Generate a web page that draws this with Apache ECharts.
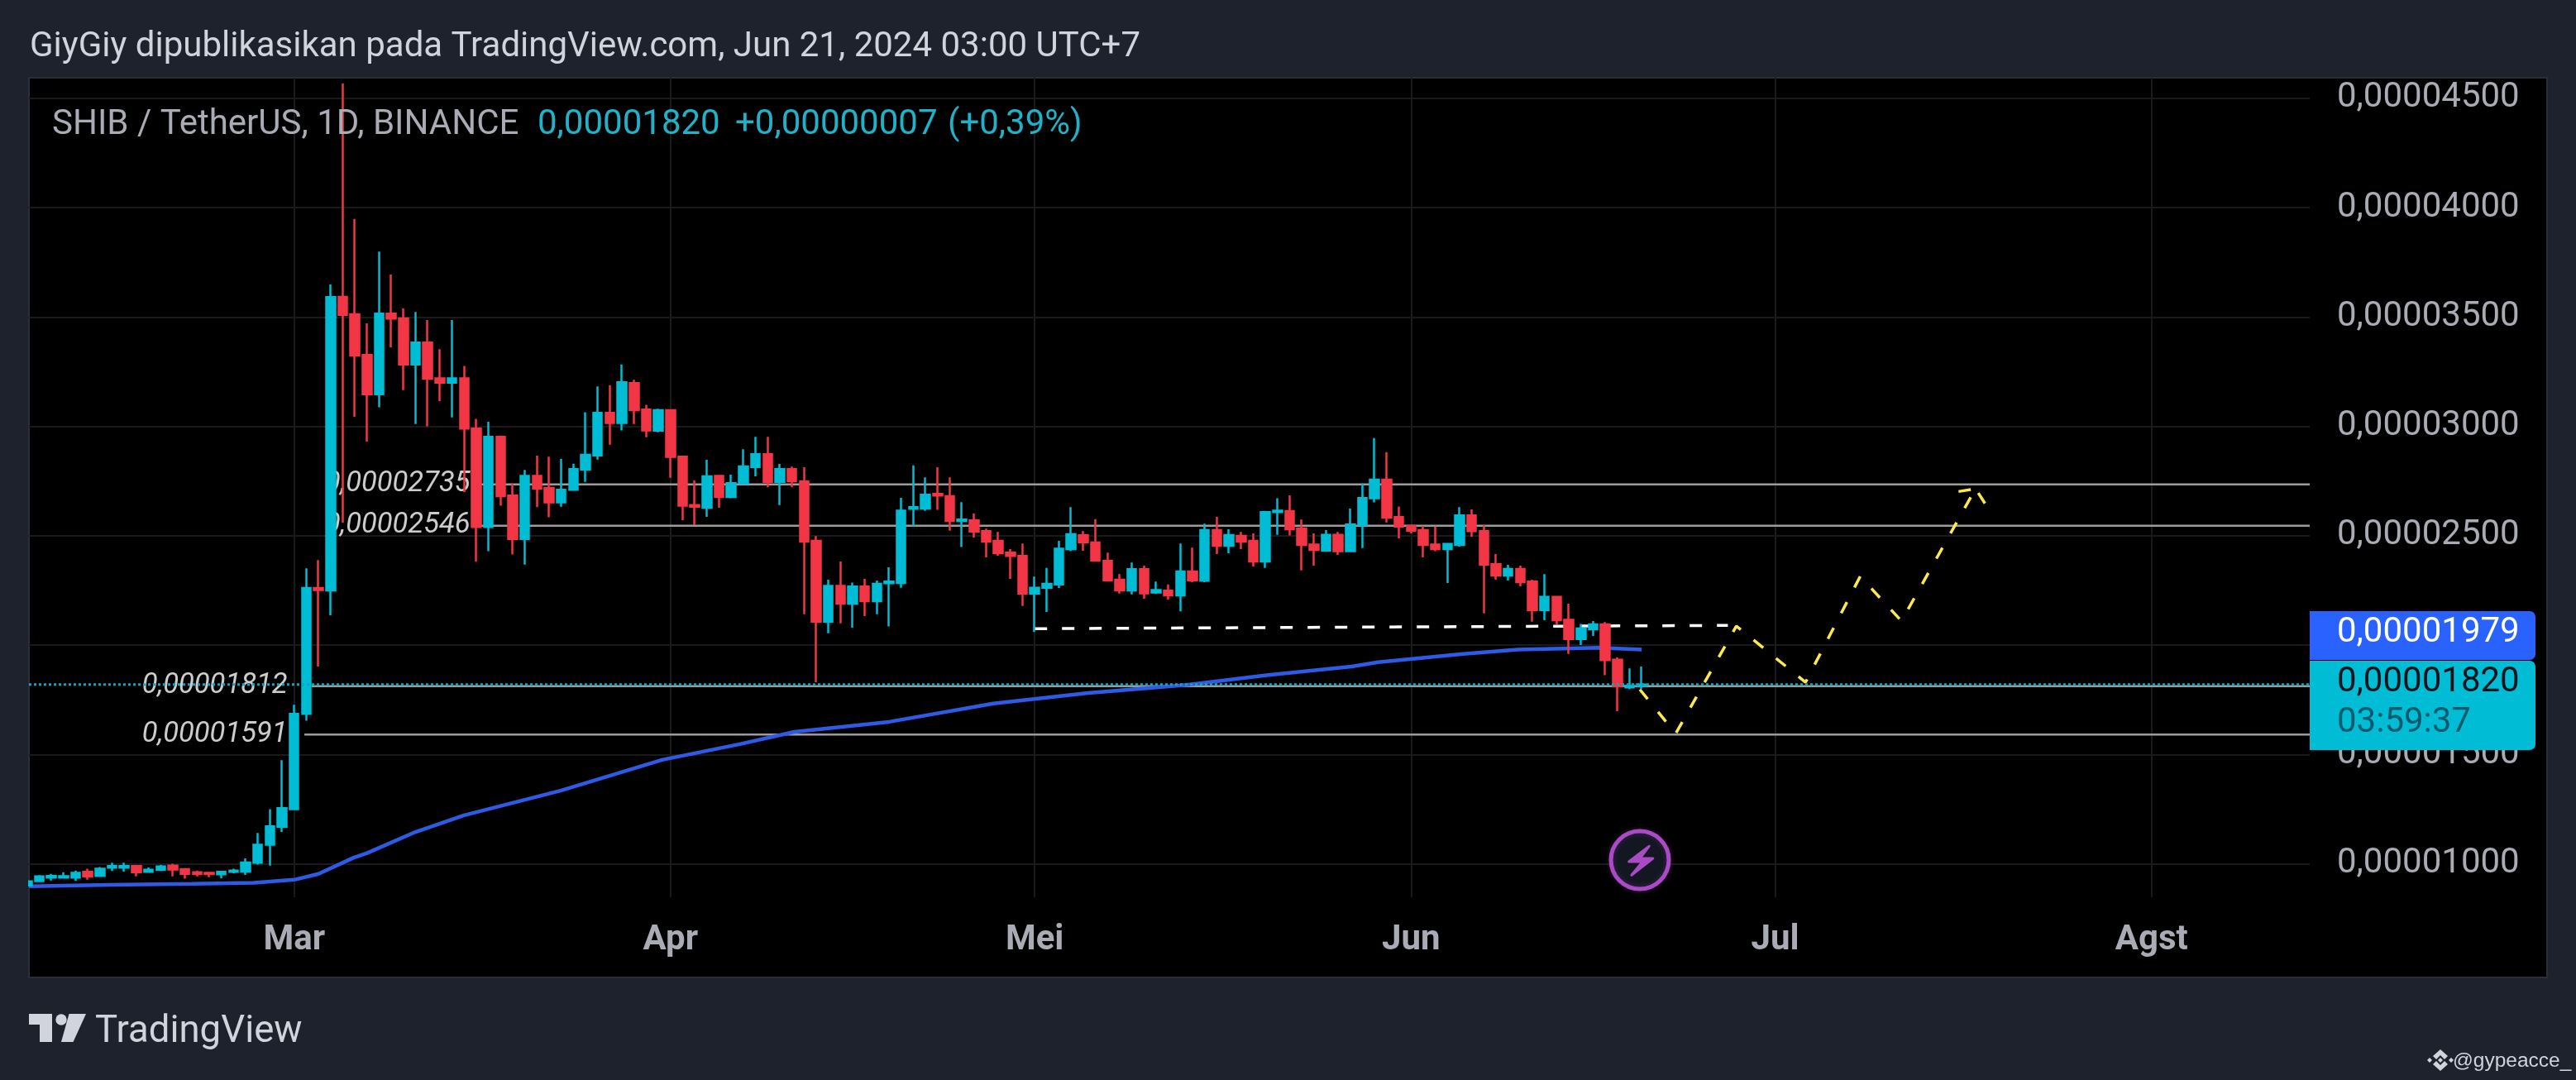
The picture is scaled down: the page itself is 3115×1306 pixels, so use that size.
<!DOCTYPE html>
<html><head><meta charset="utf-8">
<style>html,body{margin:0;padding:0;background:#1e222d}#c{width:3115px;height:1306px}</style>
<script src="https://cdn.jsdelivr.net/npm/echarts@6/dist/echarts.min.js"></script>
</head><body><div id="c"></div>
<script>
// Prices are stored in units of 0.00000001 USDT. Days count from 1 March 2024.
const firstCandleDay = -22; // 8 Feb 2024
// one row per day: open, close, low, high
const candleValues = [
[901,920,901,923],[921,942,920,948],[937,944,924,954],[937,943,933,961],[937,959,923,969],
[963,942,927,977],[944,977,942,985],[982,990,967,1005],[982,990,964,1005],[990,961,942,992],
[963,973,961,983],[973,988,967,995],[992,974,942,1000],[976,954,932,979],[961,953,942,969],
[959,953,939,962],[952,963,934,967],[963,969,957,977],[964,1006,949,1025],[1005,1087,996,1141],
[1087,1171,992,1250],[1169,1254,1146,1474],
[1250,1685,1247,1727],[1685,2261,1654,2351],[2261,2252,1902,2389],[2250,3591,2136,3649],[3592,3510,2560,4568],
[3513,3324,3044,3948],[3326,3147,2930,3471],[3147,3515,3087,3799],[3515,3493,3361,3694],[3494,3283,3166,3539],
[3283,3383,3011,3523],[3383,3219,3000,3486],[3220,3200,3116,3353],[3200,3220,3041,3486],[3220,2990,2700,3276],
[2990,2540,2381,3034],[2540,2952,2429,3021],[2952,2681,2637,2958],[2684,2485,2414,2738],[2485,2773,2368,2801],
[2773,2715,2631,2866],[2719,2652,2584,2861],[2652,2710,2633,2851],[2710,2805,2708,2829],[2803,2870,2746,3065],
[2867,3062,2848,3183],[3062,3015,2916,3188],[3015,3202,2981,3283],[3198,3074,3011,3213],[3077,2981,2950,3099],
[2980,3074,2973,3081],
[3074,2860,2765,3078],[2861,2637,2571,2863],[2640,2633,2548,2753],[2628,2772,2586,2847],[2773,2677,2628,2775],
[2677,2740,2671,2779],[2739,2817,2737,2895],[2814,2873,2772,2952],[2873,2746,2721,2952],[2746,2805,2640,2828],
[2805,2750,2721,2816],[2748,2473,2141,2813],[2477,2107,1830,2498],[2107,2271,2054,2299],[2271,2189,2099,2382],
[2189,2268,2080,2286],[2268,2201,2133,2303],[2201,2280,2141,2295],[2283,2290,2085,2356],[2284,2615,2262,2673],
[2623,2631,2542,2822],[2624,2687,2614,2767],[2691,2684,2618,2813],[2681,2567,2523,2767],[2567,2574,2448,2653],
[2570,2519,2492,2601],[2521,2473,2401,2532],[2477,2420,2409,2517],[2423,2408,2303,2439],[2408,2236,2179,2464],
[2236,2262,2060,2313],[2262,2280,2151,2353],[2277,2441,2261,2477],[2439,2507,2429,2631],[2502,2470,2431,2521],
[2469,2387,2385,2576],[2385,2296,2293,2423],[2299,2250,2236,2324],[2250,2347,2232,2377],[2347,2237,2212,2363],
[2240,2252,2234,2290],[2249,2227,2208,2277],[2227,2337,2154,2464],[2337,2296,2288,2445],[2294,2526,2288,2555],
[2526,2454,2416,2586],[2454,2503,2420,2530],[2499,2473,2439,2517],[2477,2382,2359,2511],[2382,2608,2353,2614],
[2608,2615,2504,2671],[2613,2530,2501,2685],[2533,2458,2341,2574],[2460,2435,2363,2511],[2432,2504,2429,2526],
[2504,2429,2412,2517],[2429,2551,2427,2624],[2548,2672,2444,2738],[2671,2756,2652,2946],[2756,2583,2561,2882],
[2585,2542,2488,2634],[2545,2523,2511,2547],[2526,2458,2401,2546],[2460,2439,2429,2542],[2439,2462,2284,2464],
[2458,2593,2450,2631],[2593,2521,2496,2620],[2521,2368,2145,2548],[2370,2318,2299,2416],[2318,2348,2295,2367],
[2348,2288,2269,2363],[2290,2160,2107,2299],[2160,2220,2114,2324],[2220,2114,2095,2222],[2116,2028,1960,2189],
[2028,2076,2000,2097],[2072,2095,2042,2110],[2095,1931,1862,2105],[1933,1811,1698,1944],[1806,1813,1799,1893],
[1813,1820,1800,1902]
];
const maDays =   [-21.85,-15.2,-8.4,-3.3,0,2,4.9,6,9.8,14,22,30.3,36.7,41.2,49,57.6,65.4,73.5,80.1,87.1,89.3,96.3,100.8,107.5,111];
const maValues = [897,904,908,913,927,954,1028,1049,1141,1222,1335,1475,1547,1603,1649,1733,1781,1818,1862,1902,1922,1960,1979,1988,1979];
const levelPrices = [2735,2546,1812,1591];
const levelStartDays = [15,15,1.45,0.84];
const levelTagDays = [14.53,14.53,-0.52,-0.52];
const supportDays = [61,118.1];
const supportPrices = [2075,2090];
const forecastDays = [110.85,113.8,118.8,124.5,129,132.4,138.5];
const forecastPrices = [1797,1595,2087,1830,2314,2110,2715];
const arrowDays = [137.1,138.5,139.4];
const arrowPrices = [2702,2715,2637];
const lastPrice = 1820;
const yTicks = [1000,1500,2000,2500,3000,3500,4000,4500];
const yTickLabels = ['0,00001000','0,00001500','','0,00002500','0,00003000','0,00003500','0,00004000','0,00004500'];
const monthDays = [0,31,61,92,122,153];
const monthLabels = ['Mar','Apr','Mei','Jun','Jul','Agst'];
const axisMinDay = -21.85, axisMaxDay = 166.03, axisMinPrice = 847, axisMaxPrice = 4594;

const UP='#00bcd4', DOWN='#f23645', GRID='#191a1c', GREY='#a9acb4', TXT='#d1d4dc', LEVEL='#9c9c9c', BG='#1e222d';
const fmtPrice = v => '0,' + String(Math.round(v)).padStart(8,'0');
const line = (days,vals,z,style) => ({type:'line',data:days.map((d,i)=>[d,vals[i]]),symbol:'none',silent:true,z,lineStyle:style,animation:false});

const series = [];
levelPrices.forEach((p,i)=>series.push(line([levelStartDays[i],axisMaxDay],[p,p],2,{color:LEVEL,width:2.5})));
series.push({type:'scatter',z:1,symbolSize:1,itemStyle:{color:'rgba(0,0,0,0)'},
  data:levelPrices.map((p,i)=>[levelTagDays[i],p]),
  label:{show:true,position:'left',distance:0,formatter:o=>fmtPrice(o.value[1]),color:'#fff',fontFamily:'Roboto',fontStyle:'italic',fontSize:34.5}});
series.push(line(supportDays,supportPrices,3,{color:'#fff',width:3.5,type:[15,18]}));
series.push(line(maDays,maValues,4,{color:'#2d5be6',width:4.5}));
series.push({type:'candlestick',z:5,barWidth:11,clip:true,
  encode:{x:0,y:[1,2,3,4]},
  data:candleValues.map((r,i)=>[firstCandleDay+i,...r]),
  itemStyle:{color:UP,color0:DOWN,borderColor:UP,borderColor0:DOWN,borderWidth:2.5}});
series.push(line([axisMinDay,axisMaxDay],[lastPrice,lastPrice],6,{color:'#12a4ba',width:3,type:[3,3]}));
series.push(line(forecastDays,forecastPrices,6,{color:'#fbe94e',width:3.5,type:[15,20]}));
series.push(line(arrowDays,arrowPrices,6,{color:'#fbe94e',width:3.5,type:[15,12]}));

const F='42px Roboto';
const txt=(text,x,y,font,fill,z=50,align='left')=>({type:'text',x,y,z,silent:true,style:{text,font,fill,align,verticalAlign:'middle'}});
const poly=(points,fill,z=50,extra={})=>({type:'polygon',z,silent:true,shape:{points},style:Object.assign({fill},extra)});
const graphic=[
 {type:'rect',z:-10,silent:true,shape:{x:35,y:94,width:3045,height:1088},style:{fill:'#000',stroke:'#2a2e39',lineWidth:2}},
 {type:'rect',z:40,silent:true,shape:{x:0,y:94,width:34,height:1088},style:{fill:BG}},
 txt('GiyGiy dipublikasikan pada TradingView.com, Jun 21, 2024 03:00 UTC+7',36,57,F,TXT),
 txt('SHIB / TetherUS, 1D, BINANCE',63,151,F,GREY),
 txt('0,00001820',650,151,F,'#1fb2c9'),
 txt('+0,00000007',889,151,F,'#1fb2c9'),
 txt('(+0,39%)',1146,151,F,'#1fb2c9'),
 {type:'rect',z:60,silent:true,shape:{x:2793,y:739,width:273,height:59,r:[0,7,7,0]},style:{fill:'#2962ff'}},
 {type:'rect',z:60,silent:true,shape:{x:2793,y:799,width:273,height:108,r:[0,7,7,0]},style:{fill:'#00bcd4'}},
 txt('0,00001979',2826,765,F,'#fff',61),
 txt('0,00001820',2826,825,F,'#08131a',61),
 txt('03:59:37',2826,874,F,'#045a6c',61),
 {type:'circle',z:30,silent:true,shape:{cx:1983,cy:1040,r:35},style:{fill:'#131722',stroke:'#a94bc4',lineWidth:5,shadowColor:'rgba(171,71,188,0.3)',shadowBlur:6}},
 poly([[1994.3,1023.2],[1969.7,1042],[1986.3,1042],[1972.9,1058.3],[1998.8,1038],[1983.1,1038]],'#a94bc4',31,{stroke:'#a94bc4',lineWidth:3,lineJoin:'round'}),
 poly([[35,1226],[63,1226],[63,1260],[48,1260],[48,1239],[35,1239]],TXT),
 {type:'circle',z:50,silent:true,shape:{cx:74,cy:1233,r:6.7},style:{fill:TXT}},
 poly([[83.5,1226],[104,1226],[88.5,1260],[74,1260]],TXT),
 txt('TradingView',115,1249,'45.5px Roboto',TXT),
 poly([[2951,1269],[2960,1277],[2956,1281],[2951,1276],[2946,1281],[2942,1277]],TXT),
 poly([[2951,1295],[2960,1287],[2956,1283],[2951,1288],[2946,1283],[2942,1287]],TXT),
 poly([[2938,1279],[2941,1282],[2938,1285],[2935,1282]],TXT),
 poly([[2964,1279],[2967,1282],[2964,1285],[2961,1282]],TXT),
 poly([[2951,1279],[2954,1282],[2951,1285],[2948,1282]],TXT),
 txt('@gypeacce_',2966,1283,'24.5px "Liberation Sans"',TXT)
];

const chart=echarts.init(document.getElementById('c'),null,{renderer:'canvas',width:3115,height:1306});
chart.setOption({
  animation:false,backgroundColor:BG,
  grid:{left:35,top:94,width:2758,height:991,containLabel:false},
  xAxis:{type:'value',min:axisMinDay,max:axisMaxDay,axisLine:{show:false},
    axisTick:{show:false,customValues:monthDays},
    splitLine:{show:true,lineStyle:{color:GRID,width:2}},
    axisLabel:{customValues:monthDays,margin:31,color:GREY,fontFamily:'Roboto',fontWeight:'bold',fontSize:42,formatter:v=>monthLabels[monthDays.indexOf(v)]||''}},
  yAxis:{type:'value',position:'right',min:axisMinPrice,max:axisMaxPrice,axisLine:{show:false},
    axisTick:{show:false,customValues:yTicks},
    splitLine:{show:true,lineStyle:{color:GRID,width:2}},
    axisLabel:{customValues:yTicks,margin:33,align:'left',color:GREY,fontFamily:'Roboto',fontSize:42,formatter:v=>yTickLabels[yTicks.indexOf(v)]||''}},
  series,graphic
});
</script></body></html>
